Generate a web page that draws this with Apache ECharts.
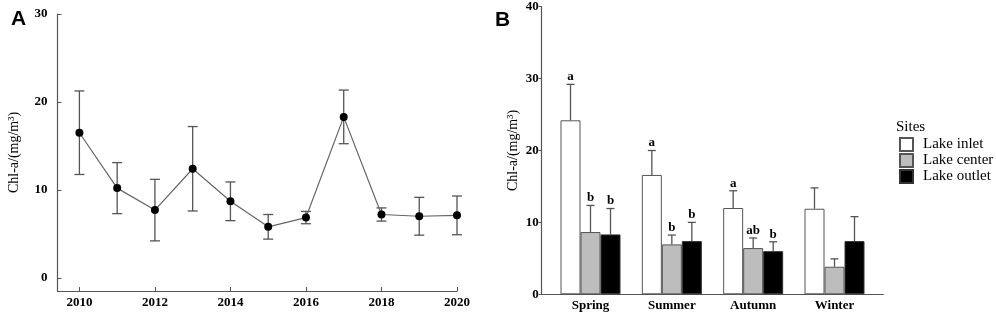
<!DOCTYPE html>
<html>
<head>
<meta charset="utf-8">
<script src="https://cdn.jsdelivr.net/npm/echarts@6/dist/echarts.min.js"></script>
<style>html,body{margin:0;padding:0;background:#fff;}#c{width:996px;height:319px;}</style>
</head>
<body>
<div id="c"></div>
<script>
// Panel A data
const years = [2010, 2011, 2012, 2013, 2014, 2015, 2016, 2017, 2018, 2019, 2020];
const meanA = [16.5, 10.2, 7.7, 12.4, 8.7, 5.8, 6.85, 18.3, 7.2, 7.0, 7.1];
const errA = [4.75, 2.9, 3.5, 4.8, 2.2, 1.4, 0.7, 3.05, 0.75, 2.15, 2.2];
const yearTicks = [2010, 2012, 2014, 2016, 2018, 2020];
const yTicksA = [0, 10, 20, 30];

// Panel B data
const seasons = ['Spring', 'Summer', 'Autumn', 'Winter'];
const siteNames = ['Lake inlet', 'Lake center', 'Lake outlet'];
const inlet = [24.2, 16.6, 12.0, 11.9];
const inletErr = [5.0, 3.4, 2.4, 2.9];
const center = [8.66, 6.94, 6.43, 3.83];
const centerErr = [3.7, 1.3, 1.4, 1.1];
const outlet = [8.33, 7.4, 6.0, 7.4];
const outletErr = [3.6, 2.6, 1.3, 3.4];
const inletLetters = ['a', 'a', 'a', ''];
const centerLetters = ['b', 'b', 'ab', ''];
const outletLetters = ['b', 'b', 'b', ''];

const SERIF = "'Liberation Serif', 'DejaVu Serif', 'Times New Roman', serif";
const AXIS = '#555';

const chart = echarts.init(document.getElementById('c'), null, {renderer: 'canvas'});

function errA_render(params, api) {
  const x = api.value(0), y = api.value(1), e = api.value(2);
  const top = api.coord([x, y + e]);
  const bot = api.coord([x, y - e]);
  const st = {stroke: '#555', lineWidth: 1.3};
  return {type: 'group', children: [
    {type: 'line', shape: {x1: top[0], y1: top[1], x2: bot[0], y2: bot[1]}, style: st},
    {type: 'line', shape: {x1: top[0] - 5, y1: top[1], x2: top[0] + 5, y2: top[1]}, style: st},
    {type: 'line', shape: {x1: bot[0] - 5, y1: bot[1], x2: bot[0] + 5, y2: bot[1]}, style: st}
  ]};
}

function makeErrB(offset, letters) {
  return function (params, api) {
    const x = api.value(0), y = api.value(1), e = api.value(2);
    const p0 = api.coord([x, y]);
    const p1 = api.coord([x, y + e]);
    const cx = p0[0] + offset;
    const st = {stroke: '#555', lineWidth: 1.3};
    return {type: 'group', children: [
      {type: 'line', shape: {x1: cx, y1: p0[1], x2: cx, y2: p1[1]}, style: st},
      {type: 'line', shape: {x1: cx - 4, y1: p1[1], x2: cx + 4, y2: p1[1]}, style: st},
      {type: 'text', style: {text: letters[params.dataIndex], x: cx, y: p1[1] - 1,
        textAlign: 'center', textVerticalAlign: 'bottom',
        font: 'bold 13px ' + SERIF, fill: '#000'}}
    ]};
  };
}

const barCommon = {type: 'bar', xAxisIndex: 1, yAxisIndex: 1, barWidth: 20, barGap: '0%'};

const option = {
  animation: false,
  title: [
    {text: 'A', left: 6, top: 4, textStyle: {fontFamily: "'Liberation Sans', Arial, sans-serif", fontWeight: 'bold', fontSize: 21, color: '#000'}},
    {text: 'B', left: 490, top: 5, textStyle: {fontFamily: "'Liberation Sans', Arial, sans-serif", fontWeight: 'bold', fontSize: 21, color: '#000'}},
    {text: 'Sites', left: 891, top: 115, textStyle: {fontFamily: SERIF, fontWeight: 'normal', fontSize: 15, color: '#000'}}
  ],
  legend: {
    data: siteNames, orient: 'vertical', left: 899, top: 137, padding: 0,
    itemWidth: 13, itemHeight: 13, itemGap: 1, icon: 'rect',
    textStyle: {fontFamily: SERIF, fontSize: 15, lineHeight: 13, color: '#000', padding: [0, 0, 0, 5]}
  },
  grid: [
    {left: 57.5, top: 14, width: 399.5, height: 277},
    {left: 541.7, top: 6.7, width: 341.6, height: 287.6}
  ],
  xAxis: [
    {type: 'value', gridIndex: 0, min: 2009.42, max: 2020,
      axisLine: {onZero: false, lineStyle: {color: AXIS, width: 1.2}},
      axisTick: {inside: true, length: 4, customValues: yearTicks, lineStyle: {color: AXIS}},
      axisLabel: {customValues: yearTicks, formatter: v => String(v), margin: 5,
        fontFamily: SERIF, fontWeight: 'bold', fontSize: 13, color: '#000'},
      splitLine: {show: false}},
    {type: 'value', gridIndex: 1, min: -0.6, max: 3.6,
      axisLine: {onZero: false, lineStyle: {color: AXIS, width: 1.2}},
      axisTick: {show: false},
      axisLabel: {customValues: [0, 1, 2, 3], formatter: v => seasons[Math.round(v)], margin: 5,
        fontFamily: SERIF, fontWeight: 'bold', fontSize: 13, color: '#000'},
      splitLine: {show: false}}
  ],
  yAxis: [
    {type: 'value', gridIndex: 0, min: -1.5, max: 30,
      name: 'Chl-a/(mg/m³)', nameLocation: 'middle', nameGap: 36,
      nameTextStyle: {fontFamily: SERIF, fontSize: 14, color: '#000'},
      axisLine: {show: true, onZero: false, lineStyle: {color: AXIS, width: 1.2}},
      axisTick: {show: true, inside: true, length: 4, customValues: yTicksA, lineStyle: {color: AXIS}},
      axisLabel: {customValues: yTicksA, margin: 10,
        fontFamily: SERIF, fontWeight: 'bold', fontSize: 13, color: '#000'},
      splitLine: {show: false}},
    {type: 'value', gridIndex: 1, min: 0, max: 40, interval: 10,
      name: 'Chl-a/(mg/m³)', nameLocation: 'middle', nameGap: 21,
      nameTextStyle: {fontFamily: SERIF, fontSize: 14, color: '#000'},
      axisLine: {show: true, onZero: false, lineStyle: {color: AXIS, width: 1.2}},
      axisTick: {show: true, length: 3, lineStyle: {color: AXIS}},
      axisLabel: {margin: 3, fontFamily: SERIF, fontWeight: 'bold', fontSize: 13, color: '#000'},
      splitLine: {show: false}}
  ],
  series: [
    {type: 'custom', xAxisIndex: 0, yAxisIndex: 0, renderItem: errA_render,
      data: years.map((y, i) => [y, meanA[i], errA[i]]), z: 2},
    {type: 'line', xAxisIndex: 0, yAxisIndex: 0, data: years.map((y, i) => [y, meanA[i]]),
      symbol: 'circle', symbolSize: 8, itemStyle: {color: '#000'},
      lineStyle: {color: '#666', width: 1.2}, z: 3},

    Object.assign({name: siteNames[0], data: seasons.map((s, i) => [i, inlet[i]]),
      itemStyle: {color: '#fff', borderColor: '#555', borderWidth: 1}}, barCommon),
    Object.assign({name: siteNames[1], data: seasons.map((s, i) => [i, center[i]]),
      itemStyle: {color: '#bdbdbd', borderColor: '#555', borderWidth: 1}}, barCommon),
    Object.assign({name: siteNames[2], data: seasons.map((s, i) => [i, outlet[i]]),
      itemStyle: {color: '#000', borderColor: '#333', borderWidth: 1}}, barCommon),

    {type: 'custom', xAxisIndex: 1, yAxisIndex: 1, renderItem: makeErrB(-20, inletLetters),
      data: seasons.map((s, i) => [i, inlet[i], inletErr[i]]), z: 5},
    {type: 'custom', xAxisIndex: 1, yAxisIndex: 1, renderItem: makeErrB(0, centerLetters),
      data: seasons.map((s, i) => [i, center[i], centerErr[i]]), z: 5},
    {type: 'custom', xAxisIndex: 1, yAxisIndex: 1, renderItem: makeErrB(20, outletLetters),
      data: seasons.map((s, i) => [i, outlet[i], outletErr[i]]), z: 5}
  ]
};
chart.setOption(option);
</script>
</body>
</html>
